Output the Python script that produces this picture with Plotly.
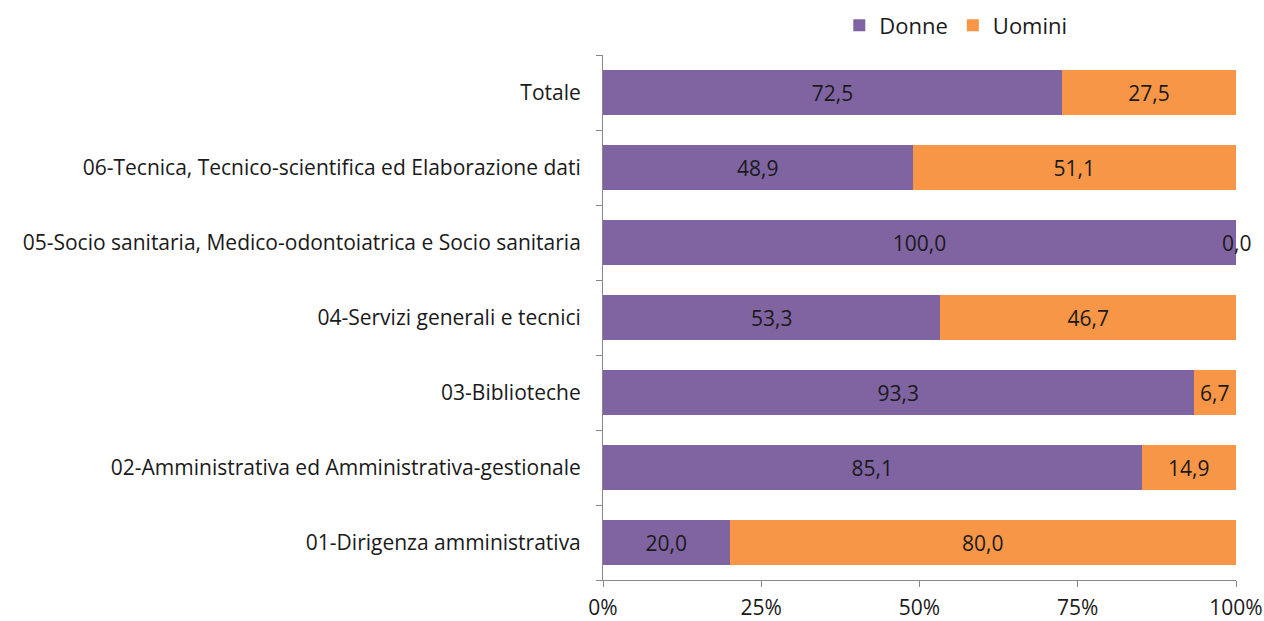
import plotly.graph_objects as go

categories = [
    "01-Dirigenza amministrativa",
    "02-Amministrativa ed Amministrativa-gestionale",
    "03-Biblioteche",
    "04-Servizi generali e tecnici",
    "05-Socio sanitaria, Medico-odontoiatrica e Socio sanitaria",
    "06-Tecnica, Tecnico-scientifica ed Elaborazione dati",
    "Totale",
]
donne = [20.0, 85.1, 93.3, 53.3, 100.0, 48.9, 72.5]
uomini = [80.0, 14.9, 6.7, 46.7, 0.0, 51.1, 27.5]
x_ticks = [0, 25, 50, 75, 100]
x_tick_labels = ["0%", "25%", "50%", "75%", "100%"]

PURPLE = "#8064A2"
ORANGE = "#F79646"
FONT = "Open Sans"
FS = 21

fig = go.Figure()
fig.add_trace(go.Bar(
    y=categories, x=donne, name="Donne", orientation="h",
    marker=dict(color=PURPLE, line=dict(width=0)),
    text=[f"{v:.1f}".replace(".", ",") for v in donne],
    textposition="inside", insidetextanchor="middle",
    textfont=dict(color="#1a1a1a", size=FS, family=FONT),
))
fig.add_trace(go.Bar(
    y=categories, x=uomini, name="Uomini", orientation="h",
    marker=dict(color=ORANGE, line=dict(width=0)),
    text=[f"{v:.1f}".replace(".", ",") if v > 0 else "" for v in uomini],
    textposition="inside", insidetextanchor="middle",
    textfont=dict(color="#1a1a1a", size=FS, family=FONT),
))

# zero-width segments get their label centred on the bar end
for cat, d, u in zip(categories, donne, uomini):
    if u == 0:
        fig.add_annotation(
            x=d + u, y=cat, text=f"{u:.1f}".replace(".", ","),
            showarrow=False, xanchor="center",
            font=dict(color="#1a1a1a", size=FS, family=FONT),
        )

fig.update_layout(
    barmode="stack",
    bargap=0.41,
    width=1264, height=621,
    margin=dict(l=603, r=28, t=55, b=41, autoexpand=False),
    paper_bgcolor="white", plot_bgcolor="white",
    font=dict(family=FONT, size=FS, color="#1a1a1a"),
    showlegend=True,
    legend=dict(
        orientation="h", x=0.664, xanchor="left", y=0.993, yanchor="top",
        xref="container", yref="container",
        font=dict(size=22, family=FONT),
        traceorder="normal", itemwidth=30,
    ),
    xaxis=dict(
        range=[0, 100], tickvals=x_ticks, ticktext=x_tick_labels,
        showgrid=False, zeroline=False, automargin=False,
        showline=True, linecolor="#888888", linewidth=1,
        ticks="outside", ticklen=6, tickcolor="#888888",
        ticklabelstandoff=3,
        tickfont=dict(size=FS, family=FONT),
    ),
    yaxis=dict(
        categoryorder="array", categoryarray=categories,
        showgrid=False, zeroline=False, automargin=False,
        showline=True, linecolor="#888888", linewidth=1,
        ticks="outside", ticklen=6, tickcolor="#888888",
        tickson="boundaries", ticklabelstandoff=17,
        tickfont=dict(size=FS, family=FONT),
    ),
)

fig.write_html("out.html")
